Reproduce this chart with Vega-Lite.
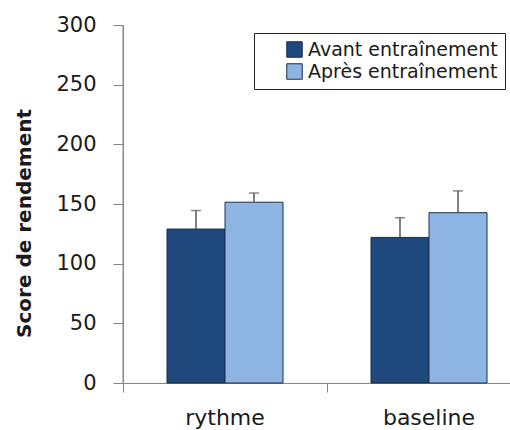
{
  "$schema": "https://vega.github.io/schema/vega-lite/v6.json",
  "autosize": "none",
  "width": 387,
  "height": 358,
  "padding": {"left": 123, "top": 25, "right": 0, "bottom": 47},
  "background": "white",
  "config": {
    "view": {"stroke": null},
    "font": "DejaVu Sans",
    "axis": {"grid": false, "domainColor": "#868686", "tickColor": "#868686", "labelColor": "#1a1a1a", "labelFont": "DejaVu Sans"}
  },
  "data": {
    "values": [
      {"cat": "rythme", "series": "Avant entraînement", "value": 129, "upper": 144.5},
      {"cat": "rythme", "series": "Après entraînement", "value": 151.5, "upper": 159.2},
      {"cat": "baseline", "series": "Avant entraînement", "value": 122, "upper": 138.5},
      {"cat": "baseline", "series": "Après entraînement", "value": 142.7, "upper": 161}
    ]
  },
  "encoding": {
    "x": {
      "field": "cat", "type": "nominal",
      "scale": {"domain": ["rythme", "baseline"], "range": [0, 408], "paddingInner": 0, "paddingOuter": 0},
      "axis": {"title": null, "bandPosition": 0, "labelAngle": 0, "labelFontSize": 22, "tickSize": 9, "labelPadding": 15, "labelAlign": "center"}
    },
    "xOffset": {
      "field": "series", "type": "nominal",
      "scale": {"domain": ["Avant entraînement", "Après entraînement"], "paddingOuter": 0.7586, "paddingInner": 0}
    }
  },
  "layer": [
    {
      "mark": {"type": "bar", "stroke": "#1b2f4a", "strokeWidth": 1},
      "encoding": {
        "y": {
          "field": "value", "type": "quantitative",
          "scale": {"domain": [0, 300], "nice": false, "zero": true},
          "axis": {"title": "Score de rendement", "values": [0, 50, 100, 150, 200, 250, 300], "tickSize": 10, "labelFontSize": 21, "labelPadding": 17, "titleFont": "DejaVu Sans", "titleFontSize": 20, "titleFontWeight": "bold", "titleColor": "#1a1a1a", "titleX": -99, "titleY": 198, "titleBaseline": "middle", "titleAngle": -90, "titleAlign": "center"}
        },
        "color": {
          "field": "series", "type": "nominal",
          "scale": {"domain": ["Avant entraînement", "Après entraînement"], "range": ["#1F497D", "#8EB4E3"]},
          "legend": {
            "title": null, "orient": "none", "legendX": 131, "legendY": 8,
            "fillColor": "white", "strokeColor": "#222222", "padding": 7,
            "symbolType": "square", "symbolSize": 240, "symbolStrokeColor": "#1b2f4a", "symbolStrokeWidth": 1, "symbolOffset": 24,
            "labelFontSize": 19, "labelFont": "DejaVu Sans", "labelColor": "#1a1a1a", "labelOffset": 4, "rowPadding": 1, "labelLimit": 300
          }
        }
      }
    },
    {
      "mark": {"type": "rule", "color": "#595959", "strokeWidth": 1.5},
      "encoding": {
        "y": {"field": "value", "type": "quantitative"},
        "y2": {"field": "upper"}
      }
    },
    {
      "mark": {"type": "tick", "color": "#595959", "size": 10, "thickness": 1.5, "orient": "horizontal"},
      "encoding": {
        "y": {"field": "upper", "type": "quantitative"}
      }
    },
    {
      "data": {"values": [{}]},
      "mark": {"type": "rule", "color": "#868686", "strokeWidth": 1},
      "encoding": {"y": {"datum": 300, "type": "quantitative"}}
    }
  ]
}
